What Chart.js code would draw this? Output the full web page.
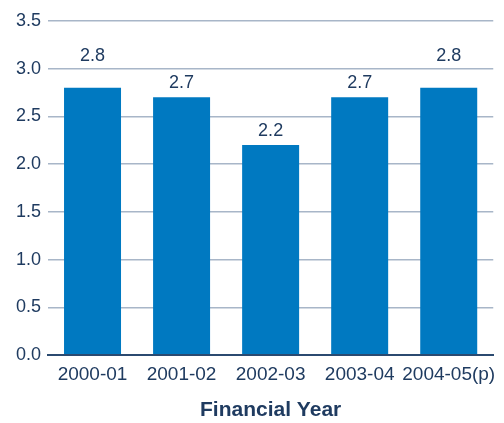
<!DOCTYPE html>
<html>
<head>
<meta charset="utf-8">
<script src="https://cdn.jsdelivr.net/npm/chart.js@4/dist/chart.umd.min.js"></script>
<style>
  html, body { margin: 0; padding: 0; background: #fff; }
  #wrap { width: 504px; height: 423px; }
</style>
</head>
<body>
<div id="wrap"><canvas id="c" width="504" height="423"></canvas></div>
<script>
const years = ['2000-01', '2001-02', '2002-03', '2003-04', '2004-05(p)'];
const values = [2.8, 2.7, 2.2, 2.7, 2.8];
const yTicks = [0, 0.5, 1.0, 1.5, 2.0, 2.5, 3.0, 3.5];

const textColor = '#1f3b60';
const barColor = '#0079c1';
const gridColor = '#a8b6c8';
const axisColor = '#2b4a70';
const fontFamily = '"Liberation Sans", Arial, sans-serif';

// Writes each bar's value above it; if the text would sit on a grid line,
// it is lifted above that line instead.
const valueLabels = {
  id: 'valueLabels',
  afterDatasetsDraw(chart) {
    const { ctx } = chart;
    const yScale = chart.scales.y;
    const meta = chart.getDatasetMeta(0);
    ctx.save();
    ctx.font = '18px ' + fontFamily;
    ctx.fillStyle = textColor;
    ctx.textAlign = 'center';
    ctx.textBaseline = 'middle';
    const half = 7;
    meta.data.forEach((bar, i) => {
      let cy = bar.y - 14;
      yTicks.forEach(t => {
        const gy = yScale.getPixelForValue(t);
        if (cy - half - 2 < gy && cy + half + 2 > gy) cy = gy - 13;
      });
      ctx.fillText(values[i].toFixed(1), bar.x, cy);
    });
    ctx.restore();
  }
};

new Chart(document.getElementById('c'), {
  type: 'bar',
  data: {
    labels: years,
    datasets: [{
      data: values,
      backgroundColor: barColor,
      borderWidth: 0,
      barPercentage: 0.64,
      categoryPercentage: 1.0
    }]
  },
  options: {
    responsive: false,
    animation: false,
    devicePixelRatio: 1,
    layout: { padding: { top: 21, right: 8, left: 0, bottom: 0 } },
    plugins: {
      legend: { display: false },
      tooltip: { enabled: false }
    },
    scales: {
      x: {
        grid: { display: false, drawTicks: false },
        border: { display: true, color: axisColor, width: 2 },
        ticks: {
          color: textColor,
          font: { family: fontFamily, size: 19 },
          padding: 8,
          maxRotation: 0,
          autoSkip: false
        },
        title: {
          display: true,
          text: 'Financial Year',
          color: textColor,
          font: { family: fontFamily, size: 21, weight: 'bold' },
          padding: { top: 16, bottom: 0 }
        },
        afterFit(scale) { scale.height = 68; }
      },
      y: {
        min: 0,
        max: 3.5,
        afterBuildTicks(scale) { scale.ticks = yTicks.map(v => ({ value: v })); },
        grid: {
          drawTicks: false,
          color: ctx => ctx.tick && ctx.tick.value === 0 ? axisColor : gridColor,
          lineWidth: ctx => ctx.tick && ctx.tick.value === 0 ? 2 : 1.5
        },
        border: { display: false },
        ticks: {
          color: textColor,
          font: { family: fontFamily, size: 18 },
          padding: 7,
          callback: v => Number(v).toFixed(1)
        },
        afterFit(scale) { scale.width = 48; }
      }
    }
  },
  plugins: [valueLabels]
});
</script>
</body>
</html>
